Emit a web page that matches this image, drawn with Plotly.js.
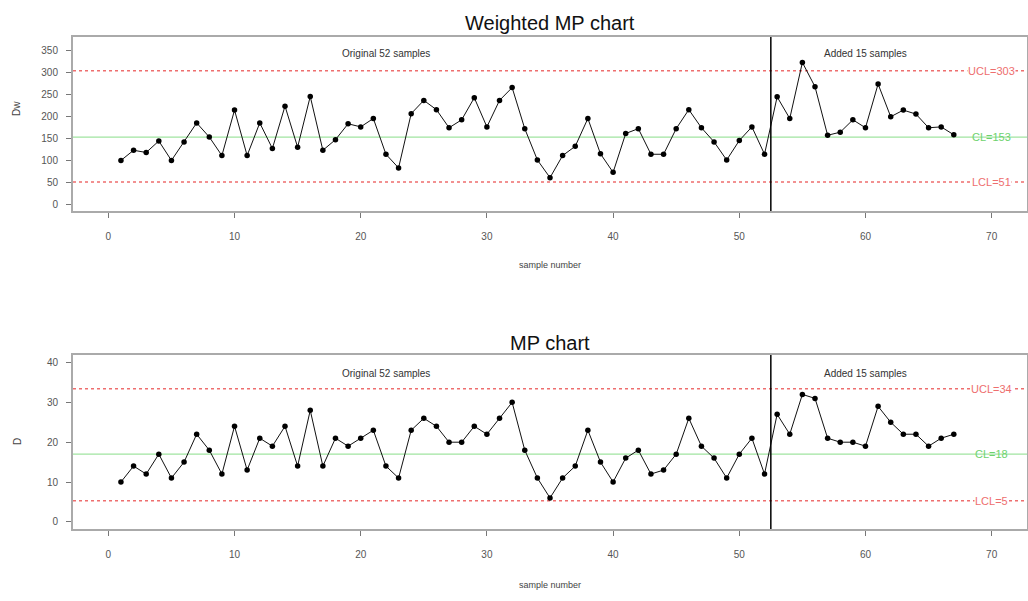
<!DOCTYPE html>
<html>
<head>
<meta charset="utf-8">
<script src="https://cdn.plot.ly/plotly-3.0.1.min.js"></script>
<style>html,body{margin:0;padding:0;background:#fff;}#chart{width:1028px;height:601px;}</style>
</head>
<body>
<div id="chart"></div>
<script>
const sampleNumber = [1,2,3,4,5,6,7,8,9,10,11,12,13,14,15,16,17,18,19,20,21,22,23,24,25,26,27,28,29,30,31,32,33,34,35,36,37,38,39,40,41,42,43,44,45,46,47,48,49,50,51,52,53,54,55,56,57,58,59,60,61,62,63,64,65,66,67];
const dwValues = [100,123,118,144,100,142,185,153,111,214,
                  111,185,127,223,130,245,123,147,183,176,
                  195,114,83,206,236,215,174,192,242,176,
                  236,265,172,101,61,111,132,195,115,73,
                  161,172,114,114,172,215,174,142,101,145,
                  176,114,244,195,322,267,157,164,192,174,
                  273,199,214,205,174,176,158];
const dValues = [10,14,12,17,11,15,22,18,12,24,
                 13,21,19,24,14,28,14,21,19,21,
                 23,14,11,23,26,24,20,20,24,22,
                 26,30,18,11,6,11,14,23,15,10,
                 16,18,12,13,17,26,19,16,11,17,
                 21,12,27,22,32,31,21,20,20,19,
                 29,25,22,22,19,21,22];
const dwLimits = {ucl: 303, cl: 153, lcl: 51};
const dLimits = {ucl: 33.4, cl: 17, lcl: 5.3};
const dwLabels = {ucl: "UCL=303", cl: "CL=153", lcl: "LCL=51"};
const dLabels = {ucl: "UCL=34", cl: "CL=18", lcl: "LCL=5"};
const splitAt = 52.5;
const xTicks = [0,10,20,30,40,50,60,70];
const dwTicks = [0,50,100,150,200,250,300,350];
const dTicks = [0,10,20,30,40];

const FONT = "Liberation Sans, Arial, sans-serif";
const red = "rgb(238,110,110)";
const green = "rgb(160,228,160)";

const traces = [
  {x: sampleNumber, y: dwValues, xaxis: 'x', yaxis: 'y', mode: 'lines+markers',
   line: {color: '#111', width: 1}, marker: {color: '#000', size: 5.5}, hoverinfo: 'none'},
  {x: sampleNumber, y: dValues, xaxis: 'x2', yaxis: 'y2', mode: 'lines+markers',
   line: {color: '#111', width: 1}, marker: {color: '#000', size: 5.5}, hoverinfo: 'none'}
];

function limitShapes(xa, ya, lim) {
  const xr = xa + ' domain';
  return [
    {type: 'line', xref: xr, yref: ya, x0: 0, x1: 1, y0: lim.ucl, y1: lim.ucl, line: {color: red, width: 1.5, dash: 'dot'}, layer: 'below'},
    {type: 'line', xref: xr, yref: ya, x0: 0, x1: 1, y0: lim.cl, y1: lim.cl, line: {color: green, width: 1.2}, layer: 'below'},
    {type: 'line', xref: xr, yref: ya, x0: 0, x1: 1, y0: lim.lcl, y1: lim.lcl, line: {color: red, width: 1.5, dash: 'dot'}, layer: 'below'},
    {type: 'line', xref: xa, yref: ya + ' domain', x0: splitAt, x1: splitAt, y0: 0, y1: 1, line: {color: '#000', width: 1.5}}
  ];
}

function limitAnnots(xa, ya, lim, lab, textY) {
  return [
    {xref: xa, yref: ya, x: 70, y: lim.ucl, text: lab.ucl, showarrow: false, bgcolor: '#fff', borderpad: 0, font: {family: FONT, size: 11, color: red}},
    {xref: xa, yref: ya, x: 70, y: lim.cl, text: lab.cl, showarrow: false, font: {family: FONT, size: 11, color: 'rgb(110,210,110)'}},
    {xref: xa, yref: ya, x: 70, y: lim.lcl, text: lab.lcl, showarrow: false, bgcolor: '#fff', borderpad: 0, font: {family: FONT, size: 11, color: red}},
    {xref: xa, yref: ya, x: 22, y: textY, text: "Original 52 samples", showarrow: false, font: {family: FONT, size: 10, color: '#333'}},
    {xref: xa, yref: ya, x: 60, y: textY, text: "Added 15 samples", showarrow: false, font: {family: FONT, size: 10, color: '#333'}}
  ];
}

const axisCommon = {
  showgrid: false, zeroline: false, showline: true, mirror: true,
  linecolor: '#aaa', linewidth: 2, ticks: 'outside', ticklen: 5, tickcolor: '#777',
  tickfont: {family: FONT, size: 10, color: '#555'}, ticklabelstandoff: 6
};

const layout = {
  width: 1028, height: 601,
  margin: {l: 73, r: 1, t: 37, b: 72},
  paper_bgcolor: '#fff', plot_bgcolor: '#fff',
  showlegend: false,
  xaxis: Object.assign({}, axisCommon, {domain: [0, 1], anchor: 'y', range: [-2.8, 72.8], tickvals: xTicks, ticklabelstandoff: 10}),
  yaxis: Object.assign({}, axisCommon, {domain: [0.6463, 1], anchor: 'x', range: [-14.6, 379.6], tickvals: dwTicks}),
  xaxis2: Object.assign({}, axisCommon, {domain: [0, 1], anchor: 'y2', range: [-2.8, 72.8], tickvals: xTicks, ticklabelstandoff: 10}),
  yaxis2: Object.assign({}, axisCommon, {domain: [0, 0.3537], anchor: 'x2', range: [-1.8, 41.9], tickvals: dTicks}),
  shapes: [].concat(limitShapes('x', 'y', dwLimits), limitShapes('x2', 'y2', dLimits)),
  annotations: [].concat(
    limitAnnots('x', 'y', dwLimits, dwLabels, 343),
    limitAnnots('x2', 'y2', dLimits, dLabels, 37.2),
    [
      {xref: 'paper', yref: 'paper', x: 0.5, y: 1.0285, yanchor: 'middle', text: "Weighted MP chart", showarrow: false, font: {family: FONT, size: 20, color: '#111'}},
      {xref: 'paper', yref: 'paper', x: 0.5, y: 0.378, yanchor: 'middle', text: "MP chart", showarrow: false, font: {family: FONT, size: 20, color: '#111'}},
      {xref: 'paper', yref: 'paper', x: 0.5, y: 0.5366, yanchor: 'middle', text: "sample number", showarrow: false, font: {family: FONT, size: 9, color: '#444'}},
      {xref: 'paper', yref: 'paper', x: 0.5, y: -0.1138, yanchor: 'middle', text: "sample number", showarrow: false, font: {family: FONT, size: 9, color: '#444'}},
      {xref: 'paper', yref: 'paper', x: -0.0586, y: 0.8537, yanchor: 'middle', xanchor: 'center', text: "Dw", textangle: -90, showarrow: false, font: {family: FONT, size: 10, color: '#444'}},
      {xref: 'paper', yref: 'paper', x: -0.0586, y: 0.1768, yanchor: 'middle', xanchor: 'center', text: "D", textangle: -90, showarrow: false, font: {family: FONT, size: 10, color: '#444'}}
    ]
  )
};

Plotly.newPlot('chart', traces, layout, {displayModeBar: false, staticPlot: true});
</script>
</body>
</html>
